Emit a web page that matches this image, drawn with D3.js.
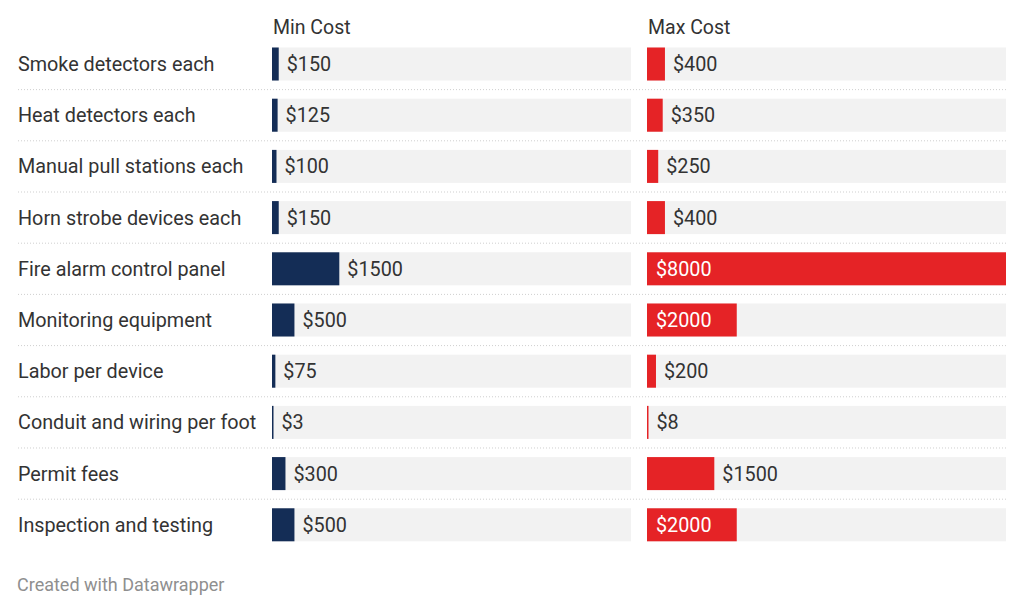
<!DOCTYPE html>
<html>
<head>
<meta charset="utf-8">
<script src="https://cdn.jsdelivr.net/npm/d3@7"></script>
<style>
  body { margin: 0; background: #fff; font-family: Roboto, sans-serif; }
</style>
</head>
<body>
<svg id="chart" width="1024" height="613"></svg>
<script>
// data
var items = ["Smoke detectors each", "Heat detectors each", "Manual pull stations each",
  "Horn strobe devices each", "Fire alarm control panel", "Monitoring equipment",
  "Labor per device", "Conduit and wiring per foot", "Permit fees", "Inspection and testing"];
var minCost = [150, 125, 100, 150, 1500, 500, 75, 3, 300, 500];
var maxCost = [400, 350, 250, 400, 8000, 2000, 200, 8, 1500, 2000];
var columns = ["Min Cost", "Max Cost"];

var svg = d3.select("#chart");
var colors = ["#142d56", "#e52326"];
var panelX = [272, 647];
var panelW = 359;

var ys = d3.scaleBand().domain(items).range([47.5, 541.3]).paddingInner(0.355).paddingOuter(0);
var xs = d3.scaleLinear().domain([0, 8000]).range([0, panelW]);

// row labels
svg.append("g").selectAll("text").data(items).enter().append("text")
  .attr("x", 18)
  .attr("y", function(d) { return ys(d) + ys.bandwidth() / 2; })
  .attr("dy", "0.35em")
  .attr("font-size", "19.8px")
  .attr("fill", "#333")
  .text(function(d) { return d; });

// dotted separators between rows
svg.append("g").selectAll("line").data(items.slice(1)).enter().append("line")
  .attr("x1", 18).attr("x2", 1006)
  .attr("y1", function(d) { return ys(d) - ys.step() * ys.paddingInner() / 2; })
  .attr("y2", function(d) { return ys(d) - ys.step() * ys.paddingInner() / 2; })
  .attr("stroke", "#cfcfcf")
  .attr("stroke-width", 1)
  .attr("stroke-dasharray", "1,2");

[minCost, maxCost].forEach(function(vals, c) {
  var g = svg.append("g").attr("transform", "translate(" + panelX[c] + ",0)");

  // column header
  g.append("text")
    .attr("x", 1).attr("y", 34)
    .attr("font-size", "19.5px")
    .attr("fill", "#333")
    .text(columns[c]);

  // background track
  g.selectAll("rect.bg").data(items).enter().append("rect")
    .attr("class", "bg")
    .attr("x", 0)
    .attr("y", function(d) { return ys(d); })
    .attr("width", panelW)
    .attr("height", ys.bandwidth())
    .attr("fill", "#f2f2f2");

  // value bars
  g.selectAll("rect.bar").data(vals).enter().append("rect")
    .attr("class", "bar")
    .attr("x", 0)
    .attr("y", function(d, i) { return ys(items[i]); })
    .attr("width", function(d) { return Math.max(1.5, xs(d)); })
    .attr("height", ys.bandwidth())
    .attr("fill", colors[c]);

  // value labels, inside the bar when it is wide enough
  g.selectAll("text.val").data(vals).enter().append("text")
    .attr("class", "val")
    .attr("x", function(d) { return xs(d) > 75 ? 9 : Math.max(1.5, xs(d)) + 8; })
    .attr("y", function(d, i) { return ys(items[i]) + ys.bandwidth() / 2; })
    .attr("dy", "0.35em")
    .attr("font-size", "19.8px")
    .attr("fill", function(d) { return xs(d) > 75 ? "#fff" : "#333"; })
    .text(function(d) { return "$" + d; });
});

// footer
svg.append("text")
  .attr("x", 17).attr("y", 591)
  .attr("font-size", "18px")
  .attr("fill", "#8f8f8f")
  .text("Created with Datawrapper");
</script>
</body>
</html>
